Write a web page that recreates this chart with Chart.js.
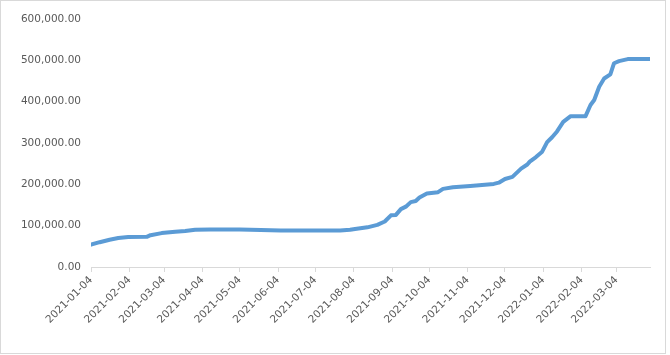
<!DOCTYPE html>
<html>
<head>
<meta charset="utf-8">
<script src="https://cdn.jsdelivr.net/npm/chart.js@4"></script>
<style>
    html, body { margin: 0; padding: 0; background: #fff; }
    #box {
        width: 664px;
        height: 352px;
        border: 1px solid #d9d9d9;
        position: relative;
    }
</style>
</head>
<body>
<div id="box"><canvas id="lineChart"></canvas></div>
<script>
// -------------------------------
// DATA
// -------------------------------
const dates = [
    "2021-01-04", "2021-01-11", "2021-01-19", "2021-01-26", "2021-02-03",
    "2021-02-18", "2021-02-21", "2021-03-02", "2021-03-13", "2021-03-21",
    "2021-03-29", "2021-04-10", "2021-05-04", "2021-05-21", "2021-06-06",
    "2021-07-24", "2021-08-01", "2021-08-05", "2021-08-15", "2021-08-23",
    "2021-08-29", "2021-09-03", "2021-09-07", "2021-09-11", "2021-09-15",
    "2021-09-19", "2021-09-23", "2021-09-26", "2021-10-02", "2021-10-11",
    "2021-10-15", "2021-10-23", "2021-11-06", "2021-11-25", "2021-11-29",
    "2021-12-04", "2021-12-10", "2021-12-17", "2021-12-22", "2021-12-24",
    "2021-12-29", "2022-01-03", "2022-01-07", "2022-01-11", "2022-01-15",
    "2022-01-20", "2022-01-26", "2022-02-07", "2022-02-11", "2022-02-14",
    "2022-02-18", "2022-02-22", "2022-02-27", "2022-03-02", "2022-03-06",
    "2022-03-13", "2022-03-31"
];

const values = [
    54000, 60000, 66000, 70000, 72500,
    73000, 77000, 82000, 85000, 87000,
    90000, 91000, 91000, 89500, 88500,
    88500, 90000, 92000, 96000, 102000,
    110000, 125000, 126000, 140000, 146000,
    157000, 159500, 168000, 178000, 181000,
    189000, 193000, 196000, 201000, 204000,
    213000, 218000, 238000, 248000, 255000,
    266000, 279000, 302000, 314000, 328000,
    351000, 365000, 365000, 392000, 404000,
    436000, 456000, 466000, 493000, 498000,
    503000, 503000
];

const tickDates = [
    "2021-01-04", "2021-02-04", "2021-03-04", "2021-04-04", "2021-05-04",
    "2021-06-04", "2021-07-04", "2021-08-04", "2021-09-04", "2021-10-04",
    "2021-11-04", "2021-12-04", "2022-01-04", "2022-02-04", "2022-03-04"
];

const yMin = 0;
const yMax = 600000;
const yStep = 100000;

// -------------------------------
// HELPERS
// -------------------------------
const DAY = 86400000;
const start = Date.parse(dates[0]);

function dayOf(d) {
    return Math.round((Date.parse(d) - start) / DAY);
}

function labelOf(day) {
    return new Date(start + day * DAY).toISOString().slice(0, 10);
}

const textColor = "#595959";
const axisColor = "#d9d9d9";
const font = { family: "DejaVu Sans", size: 10.5 };

// -------------------------------
// CHART
// -------------------------------
new Chart(document.getElementById("lineChart"), {
    type: "line",
    data: {
        datasets: [{
            data: dates.map((d, i) => ({ x: dayOf(d), y: values[i] })),
            borderColor: "#5b9bd5",
            borderWidth: 4,
            pointRadius: 0,
            tension: 0,
            borderJoinStyle: "round",
            borderCapStyle: "round"
        }]
    },
    options: {
        responsive: true,
        maintainAspectRatio: false,
        animation: false,
        layout: { padding: { top: 18, right: 15, bottom: 20, left: 12 } },
        plugins: {
            legend: { display: false },
            tooltip: { enabled: false }
        },
        scales: {
            x: {
                type: "linear",
                min: dayOf(dates[0]),
                max: dayOf(dates[dates.length - 1]),
                afterBuildTicks: axis => {
                    axis.ticks = tickDates.map(d => ({ value: dayOf(d) }));
                },
                afterFit: axis => { axis.height = 66; },
                ticks: {
                    color: textColor,
                    font: font,
                    minRotation: 45,
                    maxRotation: 45,
                    padding: 2,
                    autoSkip: false,
                    callback: v => labelOf(v)
                },
                grid: {
                    drawOnChartArea: false,
                    drawTicks: true,
                    tickLength: 5,
                    color: axisColor
                },
                border: { color: axisColor, width: 1 }
            },
            y: {
                min: yMin,
                max: yMax,
                afterFit: axis => { axis.width = 78; },
                ticks: {
                    stepSize: yStep,
                    color: textColor,
                    font: font,
                    padding: 10,
                    callback: v => v.toLocaleString("en-US", { minimumFractionDigits: 2, maximumFractionDigits: 2 })
                },
                grid: { display: false, drawTicks: false },
                border: { display: false }
            }
        }
    }
});
</script>
</body>
</html>
